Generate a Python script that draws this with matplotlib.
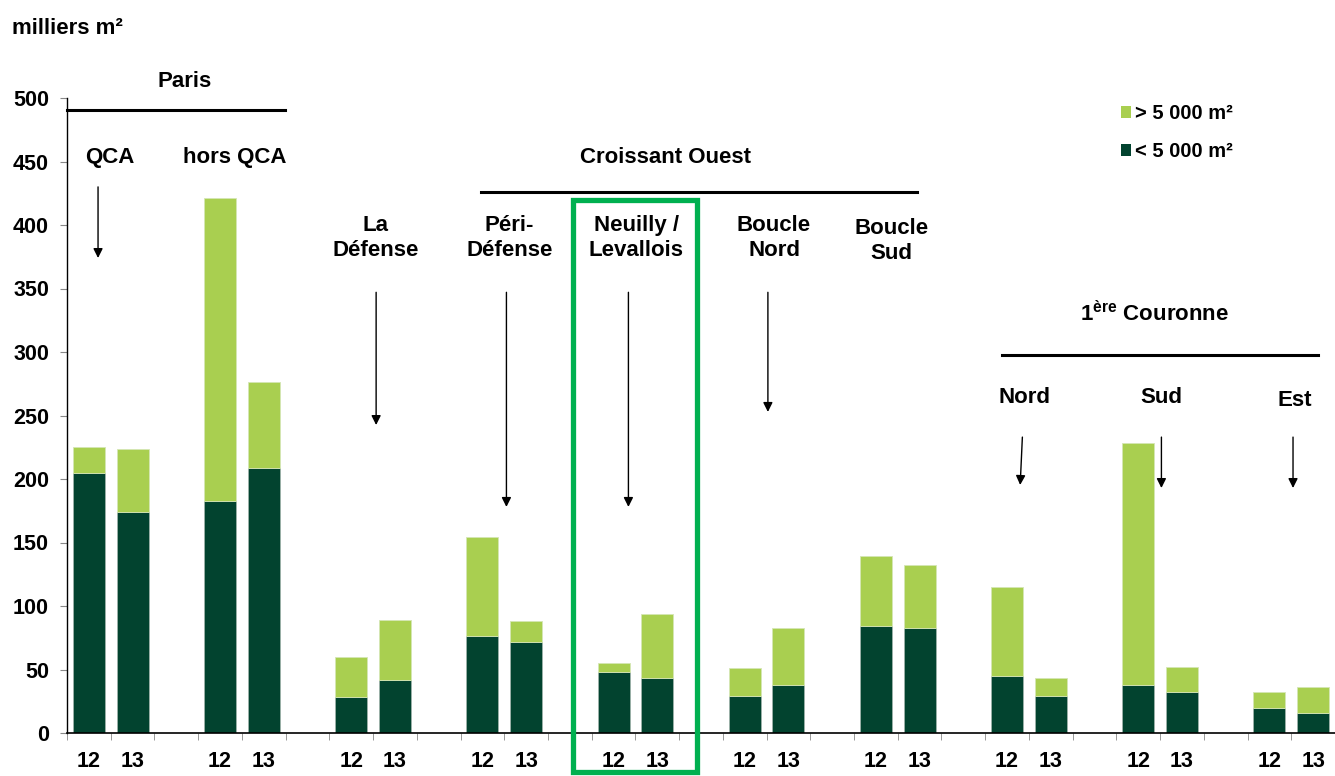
import numpy as np
import matplotlib.pyplot as plt
from matplotlib.patches import Rectangle, Patch

plt.rcParams['font.family'] = ['Liberation Sans', 'DejaVu Sans']
plt.rcParams['font.weight'] = 'bold'
plt.rcParams['mathtext.fontset'] = 'custom'
plt.rcParams['mathtext.rm'] = 'Liberation Sans'
plt.rcParams['mathtext.bf'] = 'Liberation Sans:bold'

# Demand by zone, thousands of m2 (2012 / 2013)
zones = ['QCA', 'hors QCA', 'La Défense', 'Péri-Défense', 'Neuilly / Levallois',
         'Boucle Nord', 'Boucle Sud', 'Nord', 'Sud', 'Est']
years = ['12', '13']
small = [205, 174, 183, 209, 28, 42, 76, 72, 48, 43,
         29, 38, 84, 83, 45, 29, 38, 32, 20, 16]
total = [225, 224, 421, 276, 60, 89, 154, 88, 55, 94,
         51, 83, 139, 132, 115, 43, 228, 52, 32, 36]
large = [t - s for t, s in zip(total, small)]

dark = '#02432F'
light = '#A9CF50'
box_green = '#00B050'

# two bars per zone, then an empty slot
pos = []
for g in range(len(zones)):
    pos += [3 * g, 3 * g + 1]
pos = np.array(pos)
labels = years * len(zones)

fig = plt.figure(figsize=(13.35, 7.76), dpi=100)
ax = fig.add_axes([67 / 1335, 43 / 776, 1 - 67 / 1335, 635 / 776])

ax.bar(pos, small, width=0.73, color=dark, edgecolor='#9db3aa', linewidth=0.6)
ax.bar(pos, large, bottom=small, width=0.73, color=light, edgecolor='#d5e6b5', linewidth=0.6)

ax.set_xlim(-0.5, 28.4)
ax.set_ylim(0, 500)
ax.set_yticks(np.arange(0, 501, 50))
ax.tick_params(axis='y', length=5, color='#888888', pad=8, labelsize=15.5)
ax.set_xticks(pos)
ax.set_xticklabels(labels)
ax.tick_params(axis='x', which='major', length=0, pad=13, labelsize=15.5)
ax.set_xticks(np.arange(-0.5, 28.6, 1), minor=True)
ax.tick_params(axis='x', which='minor', length=5, color='#888888', direction='out')
for lab in ax.get_xticklabels() + ax.get_yticklabels():
    lab.set_fontweight('bold')
for s in ['top', 'right']:
    ax.spines[s].set_visible(False)
ax.spines['left'].set_linewidth(1.0)
ax.spines['bottom'].set_linewidth(1.2)

fig.text(12 / 1335, 1 - 28 / 776, 'milliers m²', fontsize=16, weight='bold',
         ha='left', va='center')

fs = 16
kw = dict(ha='center', va='center', fontsize=fs, weight='bold', clip_on=False, linespacing=1.2)

# Paris
ax.text(2.19, 512.6, 'Paris', **kw)
ax.plot([-0.5, 4.49], [490.6, 490.6], color='black', lw=2.2, clip_on=False)
ax.text(0.48, 453.5, 'QCA', **kw)
ax.text(3.33, 453.5, 'hors QCA', **kw)

# Croissant Ouest
ax.text(13.18, 452.8, 'Croissant Ouest', **kw)
ax.plot([8.96, 18.95], [426, 426], color='black', lw=2.2)
ax.text(6.55, 389.8, 'La\nDéfense', **kw)
ax.text(9.62, 389.8, 'Péri-\nDéfense', **kw)
ax.text(12.52, 389.8, 'Neuilly /\nLevallois', **kw)
ax.text(15.67, 389.8, 'Boucle\nNord', **kw)
ax.text(18.36, 387.4, 'Boucle\nSud', **kw)

# 1ere Couronne
ax.text(24.37, 330, '1$^{\\mathbf{ère}}$ Couronne', **kw)
ax.plot([20.89, 28.11], [297.6, 297.6], color='black', lw=2.2, clip_on=False)
ax.text(21.39, 263.8, 'Nord', **kw)
ax.text(24.53, 263.8, 'Sud', **kw)
ax.text(27.57, 262.2, 'Est', **kw)

arrows = [
    (0.21, 430, 0.21, 374),
    (6.57, 347, 6.57, 242.5),
    (9.55, 347, 9.55, 178),
    (12.34, 347, 12.34, 178),
    (15.53, 347, 15.53, 252.8),
    (21.35, 233, 21.30, 195.3),
    (24.53, 233, 24.53, 192.9),
    (27.54, 233, 27.54, 192.9),
]
for x0, y0, x1, y1 in arrows:
    ax.annotate('', xy=(x1, y1), xytext=(x0, y0),
                arrowprops=dict(arrowstyle='-|>', color='black', lw=1.0,
                                mutation_scale=14, shrinkA=0, shrinkB=0),
                annotation_clip=False)

# highlight frame around Neuilly / Levallois
ax.add_patch(Rectangle((11.07, -31.1), 13.9 - 11.07, 419.3 + 31.1, fill=False,
                       edgecolor=box_green, lw=3.8, clip_on=False, zorder=5))

handles = [Patch(facecolor=light, edgecolor='none'), Patch(facecolor=dark, edgecolor='none')]
leg = fig.legend(handles, ['> 5 000 m²', '< 5 000 m²'], loc='upper left',
                 bbox_to_anchor=(1103 / 1335, 1 - 86 / 776), frameon=False,
                 handlelength=0.5, handleheight=0.5, handletextpad=0.2,
                 labelspacing=0.95, prop=dict(weight='bold', size=14.5))

fig.savefig('out.png', dpi=100)
